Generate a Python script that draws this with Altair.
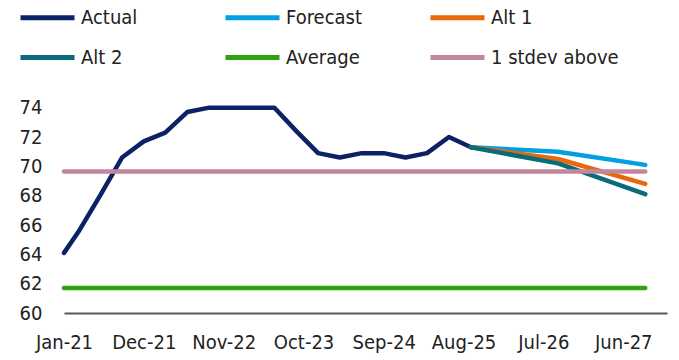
import altair as alt
import pandas as pd

# ---- data ----
series_order = ["Actual", "Forecast", "Alt 1", "Alt 2", "Average", " 1 stdev above"]
series_colors = ["#0b2265", "#02a0e0", "#e8690c", "#0a6b7a", "#2ea312", "#c2879f"]

actual_dates = ["2021-01", "2021-03", "2021-06", "2021-09", "2021-12",
                "2022-03", "2022-06", "2022-09", "2022-12",
                "2023-03", "2023-06", "2023-09", "2023-12",
                "2024-03", "2024-06", "2024-09", "2024-12",
                "2025-03", "2025-06", "2025-09"]
actual_values = [64.1, 65.5, 68.0, 70.6, 71.7,
                 72.3, 73.7, 74.0, 74.0,
                 74.0, 74.0, 72.4, 70.9,
                 70.6, 70.9, 70.9, 70.6,
                 70.9, 72.0, 71.3]

proj_dates = ["2025-09", "2026-09", "2027-09"]
forecast_values = [71.3, 71.0, 70.1]
alt1_values = [71.3, 70.5, 68.8]
alt2_values = [71.3, 70.2, 68.1]

flat_dates = ["2021-01", "2027-09"]
average_values = [61.7, 61.7]
stdev_values = [69.65, 69.65]

tick_dates = ["2021-01", "2021-12", "2022-11", "2023-10", "2024-09",
              "2025-08", "2026-07", "2027-06"]

# ---- build long table ----
rows = []
def add(name, dates, vals):
    for d, v in zip(dates, vals):
        rows.append({"series": name, "date": d + "-01T00:00:00", "value": v})

add("Actual", actual_dates, actual_values)
add("Forecast", proj_dates, forecast_values)
add("Alt 1", proj_dates, alt1_values)
add("Alt 2", proj_dates, alt2_values)
add("Average", flat_dates, average_values)
add(" 1 stdev above", flat_dates, stdev_values)
df = pd.DataFrame(rows)
df["order"] = df["series"].map({s: i for i, s in enumerate(series_order)})

FONT = "DejaVu Sans Condensed, Roboto, sans-serif"
FS = 20

def dt(s):
    y, m = s.split("-")
    return alt.DateTime(year=int(y), month=int(m), date=1)

x = alt.X(
    "date:T",
    scale=alt.Scale(domain=[dt("2021-01"), alt.DateTime(year=2027, month=12, date=1)]),
    axis=alt.Axis(
        values=[dt(t) for t in tick_dates],
        format="%b-%y",
        title=None,
        grid=False,
        ticks=False,
        domainColor="#595959",
        domainWidth=2,
        labelFont=FONT,
        labelFontSize=FS,
        labelColor="#222222",
        labelPadding=19,
        labelOverlap=False,
        labelFlush=False,
    ),
)
y = alt.Y(
    "value:Q",
    scale=alt.Scale(domain=[60, 75], nice=False, zero=False),
    axis=alt.Axis(
        values=list(range(60, 75, 2)),
        title=None,
        grid=False,
        ticks=False,
        domain=False,
        labelFont=FONT,
        labelFontSize=FS,
        labelColor="#222222",
        labelPadding=22,
    ),
)

chart = alt.Chart(df).mark_line(strokeWidth=4.5, strokeCap="round", strokeJoin="round").encode(
    x=x,
    y=y,
    color=alt.Color(
        "series:N",
        scale=alt.Scale(domain=series_order, range=series_colors),
        sort=series_order,
        legend=alt.Legend(
            orient="none",
            legendX=-46,
            legendY=-105,
            direction="horizontal",
            columns=3,
            title=None,
            symbolType="stroke",
            symbolSize=2916,
            symbolStrokeWidth=5,
            labelFont=FONT,
            labelFontSize=FS,
            labelColor="#222222",
            labelOffset=4,
            labelLimit=400,
            gridAlign="all",
            columnPadding=6,
            rowPadding=-4,
        ),
    ),
    order=alt.Order("order:Q"),
    detail="series:N",
).properties(
    width=603,
    height=220,
    background="white",
    padding={"left": 64, "top": 93, "right": 12, "bottom": 47},
    autosize=alt.AutoSizeParams(type="none"),
).configure_view(stroke=None)

chart.save("out.html", embed_options={"renderer": "svg", "actions": False})
